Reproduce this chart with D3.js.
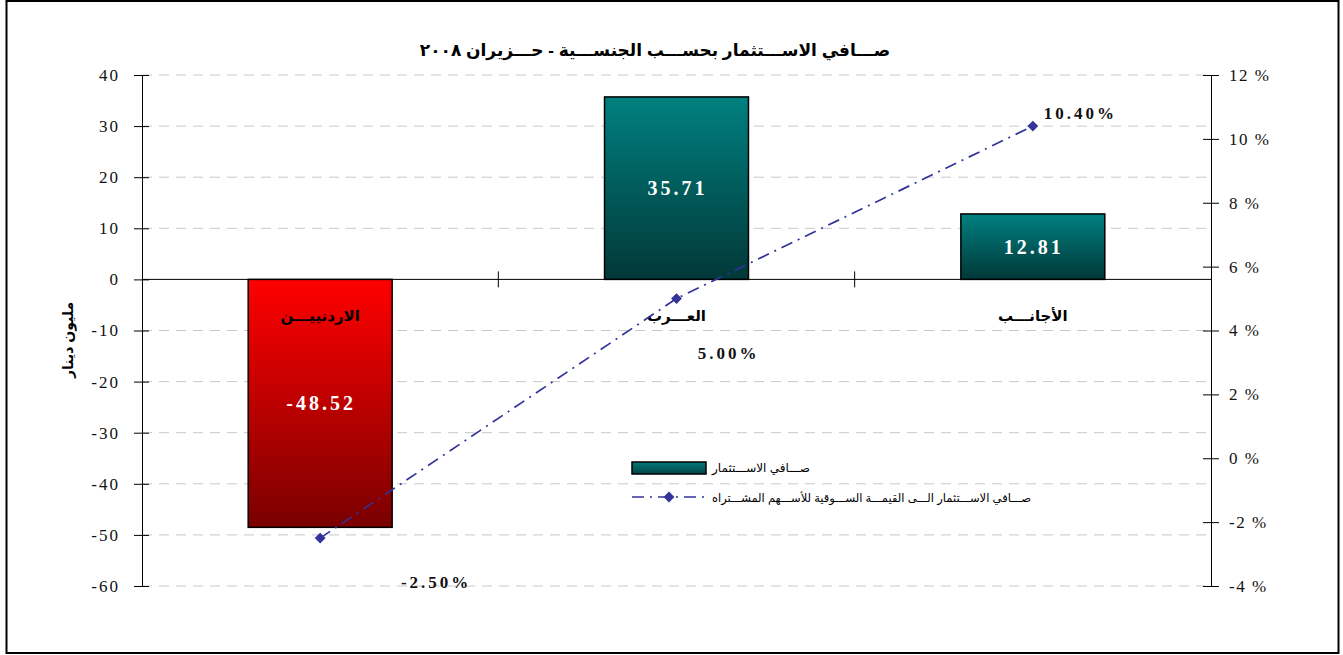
<!DOCTYPE html>
<html>
<head>
<meta charset="utf-8">
<script src="https://cdn.jsdelivr.net/npm/d3@7"></script>
<style>
  body { margin: 0; background: #fff; }
  svg { display: block; }
</style>
</head>
<body>
<svg id="chart" width="1343" height="655"></svg>
<script>
"use strict";

var categories = ["الاردنييـــن", "العـــرب", "الأجانـــب"]
var netInvestment = [-48.52, 35.71, 12.81]
var marketShare = [-2.5, 5.0, 10.4]
var leftTicks = [40, 30, 20, 10, 0, -10, -20, -30, -40, -50, -60]
var rightTicks = [12, 10, 8, 6, 4, 2, 0, -2, -4]

var titleText = "صـــافي الاســـتثمار بحســـب الجنســـية - حـــزيران ٢٠٠٨"
var yTitle = "مليون دينار"
var legendBar = "صـــافي الاســـتثمار"
var legendLine = "صـــافي الاســـتثمار الـــى القيمـــة الســـوقية للأســـهم المشـــتراه"

// label offsets from the marker (layout only)
var pctOffsets = [[116, 44], [52, 54], [11, -13]]

var svg = d3.select("#chart")
var plotLeft = 142, plotRight = 1211, plotTop = 75, plotBottom = 586
var arabicFont = "Arial, 'Liberation Sans', 'DejaVu Sans', sans-serif"
var serif = "'Liberation Serif', 'Times New Roman', serif"

// frame
svg.append("rect")
    .attr("x", 6.5).attr("y", 1).attr("width", 1332).attr("height", 652)
    .attr("fill", "none").attr("stroke", "#000").attr("stroke-width", 2)

var x = d3.scaleBand().domain(d3.range(categories.length)).range([plotLeft, plotRight])
var y = d3.scaleLinear().domain([-60, 40]).range([plotBottom, plotTop])
var y2 = d3.scaleLinear().domain([-4, 12]).range([plotBottom, plotTop])

var defs = svg.append("defs")
function grad(id, c1, c2) {
    var g = defs.append("linearGradient").attr("id", id)
        .attr("x1", 0).attr("y1", 0).attr("x2", 0).attr("y2", 1)
    g.append("stop").attr("offset", "0%").attr("stop-color", c1)
    g.append("stop").attr("offset", "100%").attr("stop-color", c2)
}
grad("gRed", "#ff0000", "#7a0000")
grad("gTeal", "#008080", "#023838")
grad("gTealLeg", "#047a7a", "#024444")

// gridlines
svg.append("g").selectAll("line")
    .data(leftTicks.filter(d => d !== 0))
    .enter().append("line")
    .attr("x1", plotLeft).attr("x2", plotRight)
    .attr("y1", d => y(d)).attr("y2", d => y(d))
    .attr("stroke", "#c8c8c8").attr("stroke-dasharray", "10,7")

// left axis
var yAxis = d3.axisLeft(y).tickValues(leftTicks).tickSize(0).tickPadding(22)
    .tickFormat(d => String(d))
var gy = svg.append("g").attr("transform", "translate(" + plotLeft + ",0)").call(yAxis)
gy.select(".domain").attr("stroke", "#000")
gy.selectAll(".tick").append("line").attr("x1", -8).attr("x2", 7).attr("stroke", "#000")
gy.selectAll("text").style("font-family", serif).style("font-size", "17px")
    .style("letter-spacing", "2px").attr("fill", "#111")

// right axis
var yAxis2 = d3.axisRight(y2).tickValues(rightTicks).tickSize(0).tickPadding(18)
    .tickFormat(d => String(d) + " %")
var gy2 = svg.append("g").attr("transform", "translate(" + plotRight + ",0)").call(yAxis2)
gy2.select(".domain").attr("stroke", "#000")
gy2.selectAll(".tick").append("line").attr("x1", -8).attr("x2", 8).attr("stroke", "#000")
gy2.selectAll("text").style("font-family", serif).style("font-size", "17px")
    .style("letter-spacing", "1.5px").attr("fill", "#111")

// bars
svg.append("g").selectAll("rect")
    .data(netInvestment)
    .enter().append("rect")
    .attr("x", (d, i) => x(i) + x.bandwidth() * 0.298)
    .attr("width", x.bandwidth() * 0.404)
    .attr("y", d => y(Math.max(0, d)))
    .attr("height", d => Math.abs(y(d) - y(0)))
    .attr("fill", d => d < 0 ? "url(#gRed)" : "url(#gTeal)")
    .attr("stroke", "#000").attr("stroke-width", 1.5)

// zero line and category ticks
svg.append("line").attr("x1", plotLeft).attr("x2", plotRight)
    .attr("y1", y(0)).attr("y2", y(0)).attr("stroke", "#000")
svg.append("g").selectAll("line")
    .data(d3.range(1, categories.length))
    .enter().append("line")
    .attr("x1", i => x(i)).attr("x2", i => x(i))
    .attr("y1", y(0) - 8).attr("y2", y(0) + 8)
    .attr("stroke", "#000")

// bar value labels
svg.append("g").selectAll("text")
    .data(netInvestment)
    .enter().append("text")
    .attr("x", (d, i) => x(i) + x.bandwidth() / 2 + 1)
    .attr("y", d => y(d / 2) + 7)
    .attr("text-anchor", "middle")
    .attr("font-family", serif).attr("font-size", 20).attr("font-weight", "bold")
    .style("letter-spacing", "3px")
    .attr("fill", "#fff")
    .text(d => d.toFixed(2))

// category labels
svg.append("g").selectAll("text")
    .data(categories)
    .enter().append("text")
    .attr("x", (d, i) => x(i) + x.bandwidth() / 2)
    .attr("y", y(0) + 42)
    .attr("text-anchor", "middle")
    .attr("direction", "rtl")
    .attr("font-family", arabicFont).attr("font-size", 15).attr("font-weight", "bold")
    .attr("fill", "#000")
    .text(d => d)

// line series
var line = d3.line()
    .x((d, i) => x(i) + x.bandwidth() / 2)
    .y(d => y2(d))
svg.append("path")
    .datum(marketShare)
    .attr("d", line)
    .attr("fill", "none").attr("stroke", "#333399").attr("stroke-width", 1.7)
    .attr("stroke-dasharray", "12,6,2,6")

var diamond = d3.symbol().type(d3.symbolDiamond2).size(75)
svg.append("g").selectAll("path")
    .data(marketShare)
    .enter().append("path")
    .attr("d", diamond)
    .attr("transform", (d, i) => "translate(" + (x(i) + x.bandwidth() / 2) + "," + y2(d) + ")")
    .attr("fill", "#333399")

svg.append("g").selectAll("text")
    .data(marketShare)
    .enter().append("text")
    .attr("x", (d, i) => x(i) + x.bandwidth() / 2 + pctOffsets[i][0])
    .attr("y", (d, i) => y2(d) + pctOffsets[i][1] + 6)
    .attr("text-anchor", (d, i) => i === 2 ? "start" : "middle")
    .attr("font-family", serif).attr("font-size", 17).attr("font-weight", "bold")
    .style("letter-spacing", "3px")
    .attr("fill", "#111")
    .text(d => d.toFixed(2) + "%")

// title
svg.append("text")
    .attr("x", 655).attr("y", 56)
    .attr("text-anchor", "middle")
    .attr("direction", "rtl")
    .attr("font-family", arabicFont).attr("font-size", 17).attr("font-weight", "bold")
    .text(titleText)

// y axis title
svg.append("text")
    .attr("transform", "translate(73,340)rotate(-90)")
    .attr("text-anchor", "middle")
    .attr("direction", "rtl")
    .attr("font-family", arabicFont).attr("font-size", 14).attr("font-weight", "bold")
    .text(yTitle)

// legend
var lg = svg.append("g").attr("transform", "translate(632,0)")
lg.append("rect").attr("x", 0).attr("y", 462).attr("width", 74).attr("height", 12)
    .attr("fill", "url(#gTealLeg)").attr("stroke", "#000").attr("stroke-width", 1.5)
lg.append("text").attr("x", 80).attr("y", 472)
    .attr("text-anchor", "end").attr("direction", "rtl")
    .attr("font-family", arabicFont).attr("font-size", 12)
    .text(legendBar)
lg.append("line").attr("x1", 0).attr("x2", 74).attr("y1", 497).attr("y2", 497)
    .attr("stroke", "#333399").attr("stroke-width", 1.7).attr("stroke-dasharray", "12,6,2,6")
lg.append("path").attr("d", diamond).attr("transform", "translate(37,497)").attr("fill", "#333399")
lg.append("text").attr("x", 80).attr("y", 502)
    .attr("text-anchor", "end").attr("direction", "rtl")
    .attr("font-family", arabicFont).attr("font-size", 11.5)
    .text(legendLine)
</script>
</body>
</html>
